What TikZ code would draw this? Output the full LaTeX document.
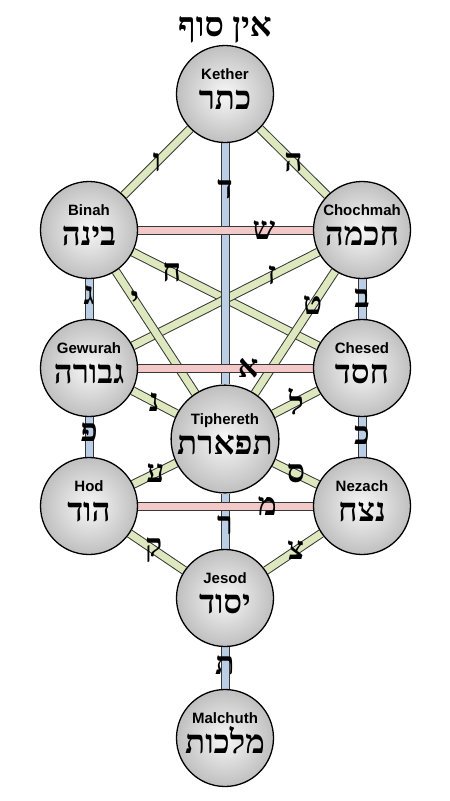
\documentclass[tikz,border=0pt]{standalone}
\usepackage{fontspec}
\usepackage{tikz}
\usetikzlibrary{positioning,backgrounds}
\TeXXeTstate=1
\setmainfont{Liberation Sans}
\newfontfamily\hebfont[Script=Hebrew]{Liberation Serif}
\definecolor{pathgreen}{RGB}{221,232,190}
\definecolor{pathblue}{RGB}{186,206,230}
\definecolor{pathpink}{RGB}{242,200,200}
\definecolor{pathedge}{RGB}{55,55,55}
\newcommand{\sname}[1]{{\bfseries\fontsize{15}{15}\selectfont #1}}
\newcommand{\hname}[1]{{\hebfont\bfseries\fontsize{33}{33}\selectfont\beginR #1\endR}\rule[-9pt]{0pt}{9pt}}

\begin{document}
\begin{tikzpicture}[x=1pt,y=-1pt,
  sefira/.style={circle,draw=black,line width=1.3pt,minimum size=97pt,inner sep=0pt,align=center,
    font=\fontsize{10}{30}\selectfont,inner color=gray!6,outer color=gray!50},
  gpath/.style={draw=pathedge,line width=1pt,double=pathgreen,double distance=7pt},
  bpath/.style={gpath,double=pathblue},
  ppath/.style={gpath,double=pathpink},
  letter/.style={font=\hebfont\bfseries\fontsize{32}{32}\selectfont,inner sep=0pt}]
\useasboundingbox (0,0) rectangle (450,801);
% the ten sefirot
\node[sefira] (kether) at (225,94) {\sname{Kether}\\\hname{כתר}};
\node[sefira] (chochmah) at (362,230) {\sname{Chochmah}\\\hname{חכמה}};
\node[sefira] (binah) at (89,230) {\sname{Binah}\\\hname{בינה}};
\node[sefira] (chesed) at (362,368) {\sname{Chesed}\\\hname{חסד}};
\node[sefira] (gewurah) at (89,368) {\sname{Gewurah}\\\hname{גבורה}};
\node[sefira] (tiphereth) at (225,439) {\sname{Tiphereth}\\\hname{תפארת}};
\node[sefira] (nezach) at (362,506) {\sname{Nezach}\\\hname{נצח}};
\node[sefira] (hod) at (89,506) {\sname{Hod}\\\hname{הוד}};
\node[sefira] (jesod) at (225,598) {\sname{Jesod}\\\hname{יסוד}};
\node[sefira] (malchuth) at (225,738) {\sname{Malchuth}\\\hname{מלכות}};
\node[font=\hebfont\bfseries\fontsize{34}{34}\selectfont,above=-2pt of kether] (einsof) {\beginR אין סוף\endR};
% the 22 paths
\begin{scope}[on background layer]
\draw[gpath] (kether) -- node[letter,pos=.5] (lvav) {ו} (binah);
\draw[gpath] (kether) -- node[letter,pos=.5] (lhe) {ה} (chochmah);
\draw[gpath] (binah) -- node[letter,pos=.21] (lcheth) {ח} (chesed);
\draw[gpath] (chochmah) -- node[letter,pos=.25] (lzayin) {ז} (gewurah);
\draw[gpath] (binah) -- node[letter,pos=.24] (lyod) {י} (tiphereth);
\draw[gpath] (chochmah) -- node[letter,pos=.28] (lteth) {ט} (tiphereth);
\draw[gpath] (gewurah) -- node[letter,pos=.49] (lnun) {נ} (tiphereth);
\draw[gpath] (chesed) -- node[letter,pos=.49] (llamed) {ל} (tiphereth);
\draw[gpath] (hod) -- node[letter,pos=.52] (layin) {ע} (tiphereth);
\draw[gpath] (nezach) -- node[letter,pos=.5] (lsamekh) {ס} (tiphereth);
\draw[gpath] (hod) -- node[letter,pos=.44] (lqoph) {ק} (jesod);
\draw[gpath] (nezach) -- node[letter,pos=.46] (ltsade) {צ} (jesod);
\draw[bpath] (kether) -- node[letter,pos=.19] (ldaleth) {ד} (tiphereth);
\draw[bpath] (tiphereth) -- node[letter,pos=.58] (lresh) {ר} (jesod);
\draw[bpath] (jesod) -- node[letter,pos=.43] (ltav) {ת} (malchuth);
\draw[bpath] (binah) -- node[letter,pos=.4] (lgimel) {ג} (gewurah);
\draw[bpath] (gewurah) -- node[letter,pos=.38] (lpe) {פ} (hod);
\draw[bpath] (chochmah) -- node[letter,pos=.48] (lbeth) {ב} (chesed);
\draw[bpath] (chesed) -- node[letter,pos=.45] (lkaph) {כ} (nezach);
\draw[ppath] (binah) -- node[letter,pos=.72] (lshin) {ש} (chochmah);
\draw[ppath] (gewurah) -- node[letter,pos=.63] (laleph) {א} (chesed);
\draw[ppath] (hod) -- node[letter,pos=.74] (lmem) {מ} (nezach);
\end{scope}
\end{tikzpicture}
\end{document}
